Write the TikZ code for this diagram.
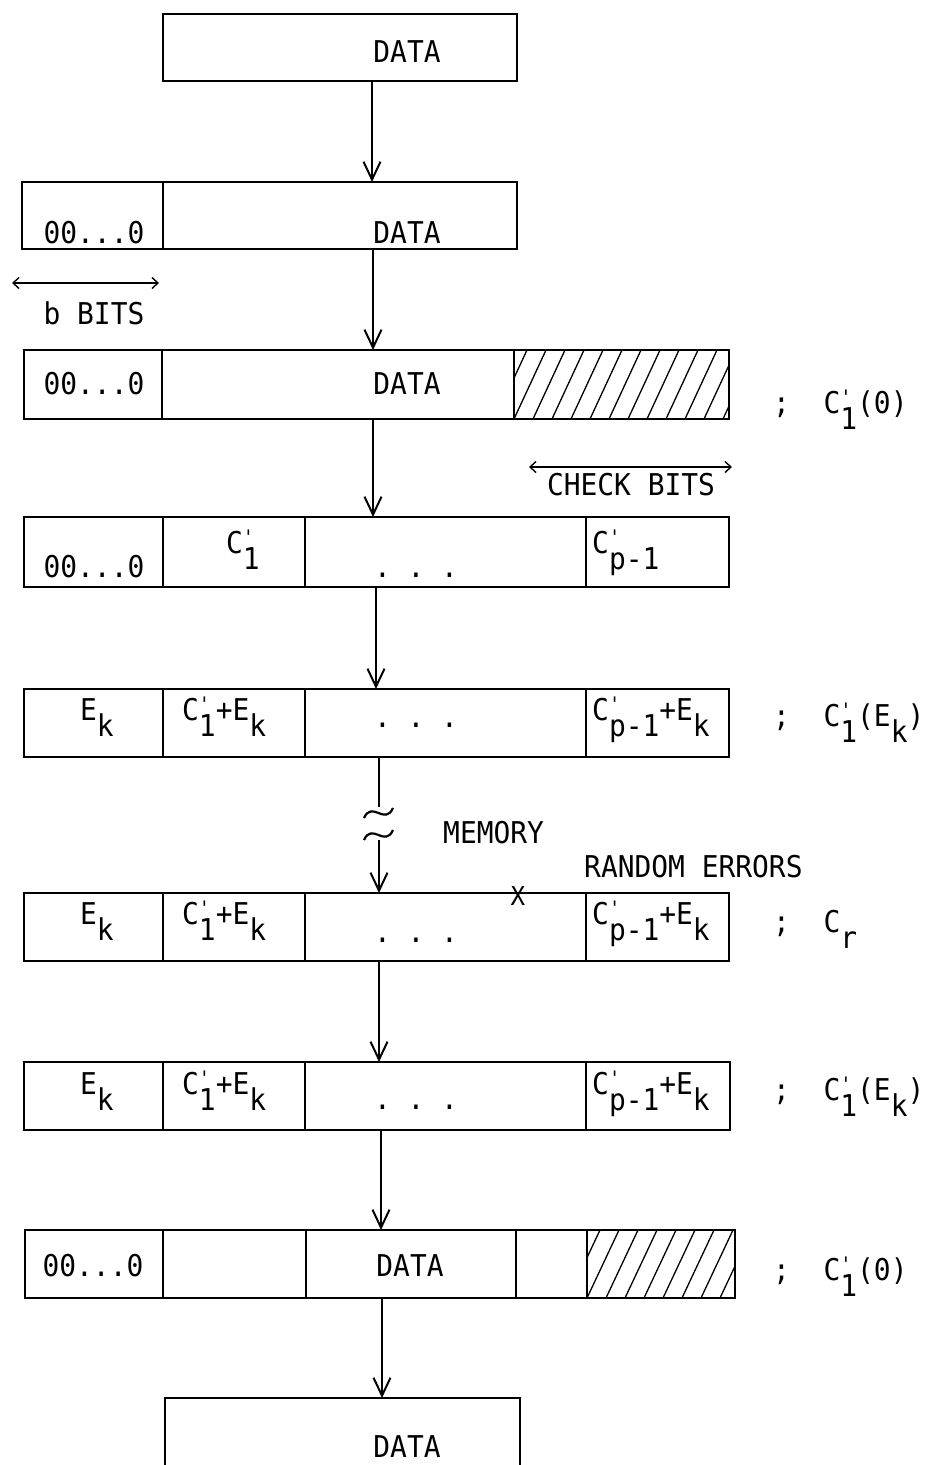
\documentclass[tikz,border=0pt]{standalone}
\usepackage{fontspec}
\setmainfont{DejaVu Sans Mono}[FakeStretch=0.93]
\usetikzlibrary{arrows.meta}
\newcommand{\sz}{\fontsize{30}{32}\selectfont}
\newcommand{\pr}[1]{C\raisebox{-0.55em}{\shortstack[l]{{\fontsize{20}{20}\selectfont\textquotesingle}\\#1}}}
\newcommand{\dn}[1]{\raisebox{-0.55em}{#1}}
\newcommand{\cellat}[5]{\node[cellbox, minimum width={(#4-#2)*1pt}, minimum height={(#5-#3)*1pt}] (#1) at (#2,#3) {};}
\tikzset{
  cellbox/.style={draw, line width=2.6pt, inner sep=0pt, outer sep=0pt, anchor=north west},
  txt/.style={font=\sz, inner sep=0pt},
  flow/.style={line width=2pt, -{Straight Barb[length=18pt,width=17pt,line width=2pt]}},
  plain/.style={line width=2.2pt},
  dim/.style={line width=1.4pt, {Straight Barb[length=6pt,width=11pt]}-{Straight Barb[length=6pt,width=11pt]}},
  hatch/.style={line width=1.3pt}
}
\begin{document}
\begin{tikzpicture}[x=1pt,y=-1pt]
\useasboundingbox (0,0) rectangle (929,1465);
% row 1
\cellat{r1}{163}{14}{517}{81}
\node[txt, anchor=base] (t1) at (407,62) {DATA};
% row 2
\cellat{r2a}{22}{182}{163}{249}
\cellat{r2b}{163}{182}{517}{249}
\node[txt, anchor=base] (t2a) at (94,243) {00...0};
\node[txt, anchor=base] (t2b) at (407,243) {DATA};
\coordinate (bl) at (12,283);
\coordinate (br) at (159,283);
\draw[dim] (bl) -- (br);
\node[txt, anchor=base] (bbits) at (94,324) {b BITS};
% row 3
\cellat{r3a}{24}{350}{162}{419}
\cellat{r3b}{162}{350}{514}{419}
\cellat{r3c}{514}{350}{729}{419}
\begin{scope}
\clip (r3c.south west) rectangle (r3c.north east);
\foreach \i in {-3,...,13} \draw[hatch] ([xshift=\i*19pt]r3c.south west) -- ++(32,-69);
\end{scope}
\node[txt, anchor=base] (t3a) at (94,394) {00...0};
\node[txt, anchor=base] (t3b) at (407,394) {DATA};
\node[txt, anchor=base west] (l3) at (773,413) {;~~\pr{1}(0)};
\coordinate (cl) at (529,467);
\coordinate (cr) at (732,467);
\draw[dim] (cl) -- (cr);
\node[txt, anchor=base] (chk) at (631,495) {CHECK BITS};
% row 4
\cellat{r4a}{24}{517}{163}{587}
\cellat{r4b}{163}{517}{305}{587}
\cellat{r4c}{305}{517}{586}{587}
\cellat{r4d}{586}{517}{729}{587}
\node[txt, anchor=base] (t4a) at (94,577) {00...0};
\node[txt, anchor=base west] (t4b) at (226,553) {\pr{1}};
\node[txt, anchor=base] (t4c) at (416,577) {.~.~.};
\node[txt, anchor=base west] (t4d) at (592,553) {\pr{p-1}};
% row 5
\cellat{r5a}{24}{689}{163}{757}
\cellat{r5b}{163}{689}{305}{757}
\cellat{r5c}{305}{689}{586}{757}
\cellat{r5d}{586}{689}{729}{757}
\node[txt, anchor=base west] (t5a) at (80,720) {E\dn{k}};
\node[txt, anchor=base west] (t5b) at (182,720) {\pr{1}+E\dn{k}};
\node[txt, anchor=base] (t5c) at (416,727) {.~.~.};
\node[txt, anchor=base west] (t5d) at (592,720) {\pr{p-1}+E\dn{k}};
\node[txt, anchor=base west] (l5) at (773,726) {;~~\pr{1}(E\dn{k})};
% memory
\coordinate (m1) at (379,807);
\coordinate (m2) at (379,840);
\draw[plain] ([xshift=-66.5pt]r5c.south) -- (m1);
\draw[plain] (364,818) .. controls (372,800) and (385,826) .. (393,808);
\draw[plain] (364,840) .. controls (372,822) and (385,848) .. (393,830);
\node[txt, anchor=base west] (mem) at (443,843) {MEMORY};
\node[txt, anchor=base west] (rnd) at (584,877) {RANDOM ERRORS};
% row 6
\cellat{r6a}{24}{893}{163}{961}
\cellat{r6b}{163}{893}{305}{961}
\cellat{r6c}{305}{893}{586}{961}
\cellat{r6d}{586}{893}{729}{961}
\draw[flow] (m2) -- ([xshift=-66.5pt]r6c.north);
\node[font=\fontsize{26}{28}\selectfont, inner sep=0pt] (xm) at (518,896) {X};
\node[txt, anchor=base west] (t6a) at (80,924) {E\dn{k}};
\node[txt, anchor=base west] (t6b) at (182,924) {\pr{1}+E\dn{k}};
\node[txt, anchor=base] (t6c) at (416,942) {.~.~.};
\node[txt, anchor=base west] (t6d) at (592,924) {\pr{p-1}+E\dn{k}};
\node[txt, anchor=base west] (l6) at (773,932) {;~~C\dn{r}};
% row 7
\cellat{r7a}{24}{1062}{163}{1130}
\cellat{r7b}{163}{1062}{305}{1130}
\cellat{r7c}{305}{1062}{586}{1130}
\cellat{r7d}{586}{1062}{730}{1130}
\node[txt, anchor=base west] (t7a) at (80,1094) {E\dn{k}};
\node[txt, anchor=base west] (t7b) at (182,1094) {\pr{1}+E\dn{k}};
\node[txt, anchor=base] (t7c) at (416,1109) {.~.~.};
\node[txt, anchor=base west] (t7d) at (592,1094) {\pr{p-1}+E\dn{k}};
\node[txt, anchor=base west] (l7) at (773,1100) {;~~\pr{1}(E\dn{k})};
% row 8
\cellat{r8a}{25}{1230}{163}{1298}
\cellat{r8b}{163}{1230}{306}{1298}
\cellat{r8c}{306}{1230}{516}{1298}
\cellat{r8d}{516}{1230}{587}{1298}
\cellat{r8e}{587}{1230}{735}{1298}
\begin{scope}
\clip (r8e.south west) rectangle (r8e.north east);
\foreach \i in {-3,...,10} \draw[hatch] ([xshift=\i*19pt]r8e.south west) -- ++(32,-68);
\end{scope}
\node[txt, anchor=base] (t8a) at (93,1276) {00...0};
\node[txt, anchor=base] (t8c) at (410,1276) {DATA};
\node[txt, anchor=base west] (l8) at (773,1280) {;~~\pr{1}(0)};
% row 9
\coordinate (r9top) at (382,1398);
\draw[line width=2.6pt] (165,1470) -- (165,1398) -- (520,1398) -- (520,1470);
\node[txt, anchor=base] (t9) at (407,1457) {DATA};
% arrows
\draw[flow] ([xshift=32pt]r1.south) -- ([xshift=32pt]r2b.north);
\draw[flow] ([xshift=33pt]r2b.south) -- ([xshift=35pt]r3b.north);
\draw[flow] ([xshift=35pt]r3b.south) -- ([xshift=-72.5pt]r4c.north);
\draw[flow] ([xshift=-69.5pt]r4c.south) -- ([xshift=-69.5pt]r5c.north);
\draw[flow] ([xshift=-66.5pt]r6c.south) -- ([xshift=-66.5pt]r7c.north);
\draw[flow] ([xshift=-64.5pt]r7c.south) -- ([xshift=-30pt]r8c.north);
\draw[flow] ([xshift=-29pt]r8c.south) -- (r9top);
\end{tikzpicture}
\end{document}
